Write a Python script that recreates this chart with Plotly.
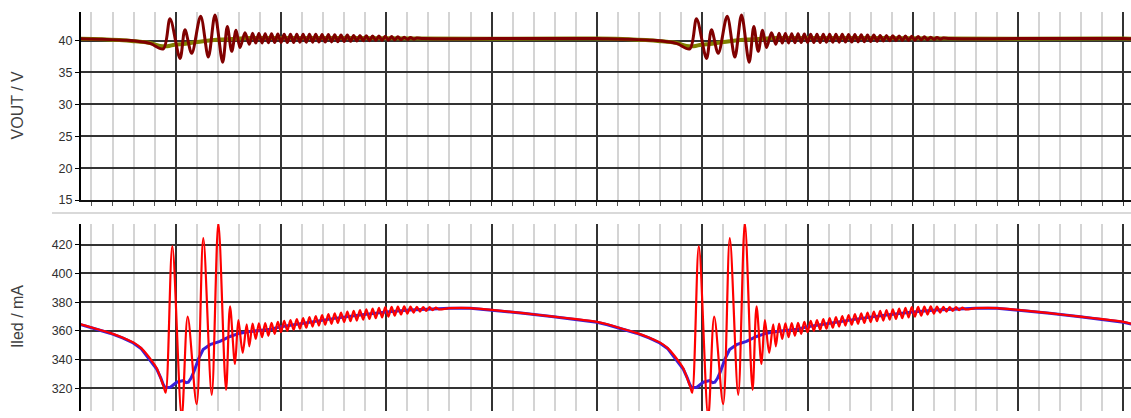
import plotly.graph_objects as go

# ---------------- data (one period of a repeating waveform; time in us, phase 0..500) ----------------
PERIOD = 500
PERIOD_STARTS = [0, 500, 1000]

# Iled, raw (red)
T_IRED = [0, 10, 24, 37.6, 50, 59.7, 67, 72.5, 78, 82, 86, 88.5, 90.5, 96.8, 105.7, 111.4, 119.9,
          126.2, 134.2, 140.5, 147.8, 151.6, 156.3, 159.5, 163.6, 167.4, 169.9,
          173, 176, 179, 182, 185, 188, 191, 194, 197, 200, 203, 206, 209, 212, 215, 218, 221, 224,
          227, 230, 233, 236, 239, 242, 245, 248, 251, 254, 257, 260, 263, 266, 269, 272, 275, 278,
          281, 284, 287, 290, 293, 296, 299, 302, 305, 308, 311, 314, 317, 320, 323, 326, 329, 332,
          335, 338, 341, 344, 347, 350, 360, 380, 400, 430, 459, 478]
V_IRED = [366.3, 364.6, 361.5, 358.6, 355.2, 352.0, 348.2, 343.8, 338.5, 334.0, 326.5, 321.5, 317.0,
          419.0, 300.0, 370.0, 309.0, 424.5, 315.5, 435.0, 319.0, 377.0, 337.0, 367.5, 344.8, 364.5, 349.3,
          365.1, 354.4, 365.3, 355.6, 365.4, 356.6, 365.6, 357.9, 366.3, 359.2, 367.0, 360.0, 367.5, 360.8,
          368.2, 361.5, 368.9, 362.2, 369.6, 363.0, 370.3, 363.7, 371.0, 364.3, 371.6, 364.9, 372.2, 365.5,
          372.8, 366.1, 373.4, 366.7, 373.9, 367.2, 374.5, 367.8, 375.0, 368.3, 375.5, 368.8, 376.1, 369.3,
          376.6, 369.9, 376.8, 370.6, 376.9, 371.3, 377.0, 372.0, 376.9, 372.7, 376.8, 373.4, 376.6, 373.9,
          376.5, 374.4, 376.2, 375.0, 375.8, 375.9, 374.6, 372.3, 369.9, 368.3]

# Iled, averaged (blue)
T_IAVG = [0, 10, 24, 37.6, 50, 59.7, 67, 72.5, 78, 82, 86, 88, 90, 95, 101, 104, 107, 110, 112, 114.5,
          117, 121.5, 126, 132.6, 142, 151.6, 161, 170.6, 180, 190, 200, 218, 237, 251, 275, 300, 322,
          346, 360, 380, 400, 430, 459, 478]
V_IAVG = [366.0, 364.3, 361.3, 358.4, 355.0, 351.6, 347.8, 342.5, 337.6, 333.4, 327.0, 323.0, 320.5,
          320.8, 324.3, 325.0, 325.4, 324.0, 324.3, 327.0, 331.1, 340.2, 347.0, 350.4, 352.7, 356.1,
          358.4, 359.5, 360.3, 361.2, 362.9, 365.0, 367.3, 368.7, 371.0, 373.2, 374.6, 375.5, 375.7,
          375.8, 374.5, 372.2, 369.8, 368.2]

# VOUT, raw (dark red)
T_VRAW = [0, 10, 30, 50, 60, 75.6, 88.2, 94.6, 104.1, 108.8, 115.2, 123.7, 131, 137.3, 144.6, 149,
          153.2, 157.3, 161.1, 165.8, 169.9,
          173, 176, 179, 182, 185, 188, 191, 194, 197, 200, 203, 206, 209, 212, 215, 218, 221, 224,
          227, 230, 233, 236, 239, 242, 245, 248, 251, 254, 257, 260, 263, 266, 269, 272, 275, 278,
          281, 284, 287, 290, 293, 296, 299, 302, 305, 308, 311, 314, 317, 320, 323, 326, 329,
          335, 400, 478]
V_VRAW = [40.3, 40.28, 40.2, 40.05, 39.95, 39.55, 38.7, 43.4, 37.2, 41.7, 38.0, 43.8, 37.4, 44.0, 36.6,
          42.2, 38.3, 41.6, 38.9, 41.2, 39.4,
          41.15, 39.60, 41.10, 39.62, 41.07, 39.65, 41.05, 39.68, 41.02, 39.70, 41.00, 39.70, 41.00,
          39.70, 41.00, 39.72, 41.00, 39.72, 40.98, 39.74, 40.98, 39.75, 40.95, 39.76, 40.95, 39.78,
          40.90, 39.82, 40.88, 39.85, 40.85, 39.88, 40.80, 39.92, 40.78, 39.95, 40.75, 39.97, 40.72,
          40.00, 40.70, 40.02, 40.66, 40.06, 40.62, 40.10, 40.58, 40.14, 40.52, 40.18, 40.46, 40.22,
          40.38, 40.30, 40.30, 40.30]

# VOUT, averaged (olive)
T_VAVG = [0, 30, 60, 75.6, 85, 92, 99, 104, 113.5, 126, 142, 160, 170.6, 180, 250, 330, 478]
V_VAVG = [40.3, 40.2, 39.9, 39.6, 39.15, 39.1, 39.35, 39.4, 39.6, 39.9, 40.15, 40.3, 40.4, 40.4, 40.4,
          40.3, 40.3]

Y1_TICKS = [15, 20, 25, 30, 35, 40]
Y2_TICKS = [320, 340, 360, 380, 400, 420]
Y1_TITLE = "VOUT / V"
Y2_TITLE = "Iled / mA"

for a, b in [(T_IRED, V_IRED), (T_IAVG, V_IAVG), (T_VRAW, V_VRAW), (T_VAVG, V_VAVG)]:
    assert len(a) == len(b), (len(a), len(b))


def tile(ts, vs):
    xs, ys = [], []
    for s in PERIOD_STARTS:
        xs += [s + t for t in ts]
        ys += list(vs)
    return xs, ys


# ---------------- figure ----------------
W, H = 1131, 418
ML = 81
fig = go.Figure()

x, y = tile(T_VAVG, V_VAVG)
fig.add_trace(go.Scatter(x=x, y=y, mode="lines", line=dict(color="#808000", width=4, shape="spline"),
                         xaxis="x", yaxis="y", hoverinfo="skip"))
x, y = tile(T_VRAW, V_VRAW)
fig.add_trace(go.Scatter(x=x, y=y, mode="lines", line=dict(color="#800000", width=3, shape="spline", smoothing=0.9),
                         xaxis="x", yaxis="y", hoverinfo="skip"))
x, y = tile(T_IAVG, V_IAVG)
fig.add_trace(go.Scatter(x=x, y=y, mode="lines", line=dict(color="#3a20d8", width=3),
                         xaxis="x2", yaxis="y2", hoverinfo="skip"))
x, y = tile(T_IRED, V_IRED)
fig.add_trace(go.Scatter(x=x, y=y, mode="lines", line=dict(color="#ff0000", width=2.2, shape="spline", smoothing=0.9),
                         xaxis="x2", yaxis="y2", hoverinfo="skip"))

XR = [10.07, 1007.2]
grid_major = "#333333"
grid_minor = "#d4d4d4"
tick_font = dict(family="Liberation Sans, Arial, sans-serif", size=12.5, color="#303030")

xcommon = dict(range=XR, tick0=0, dtick=100, showgrid=True, gridcolor=grid_major, gridwidth=1.5,
               showticklabels=False, zeroline=False,
               minor=dict(dtick=20, tick0=0, showgrid=True, gridcolor=grid_minor, gridwidth=1.5,
                          ticks="outside", ticklen=4, tickcolor="#555555"),
               ticks="outside", ticklen=4, tickcolor="#333333")

fig.update_layout(
    width=W, height=H,
    margin=dict(l=ML, r=0, t=0, b=0),
    paper_bgcolor="white", plot_bgcolor="white",
    showlegend=False,
    xaxis=dict(domain=[0, 1], anchor="y", showline=True, linecolor="#111111", linewidth=1.5, **xcommon),
    xaxis2=dict(domain=[0, 1], anchor="y2", showline=False, **{k: v for k, v in xcommon.items() if k not in ("minor", "ticks")},
                minor=dict(dtick=20, tick0=0, showgrid=True, gridcolor=grid_minor, gridwidth=1.5), ticks=""),
    yaxis=dict(domain=[1 - 203.5 / H, 1 - 12 / H], range=[15, 44.5], tickvals=Y1_TICKS,
               showgrid=True, gridcolor=grid_major, gridwidth=1.5, zeroline=False,
               showline=True, linecolor="#000000", linewidth=2, ticks="outside", ticklen=4,
               tickcolor="#000000", tickfont=tick_font),
    yaxis2=dict(domain=[0, 1 - 227.7 / H], range=[304.3, 434.4], tickvals=Y2_TICKS,
                showgrid=True, gridcolor=grid_major, gridwidth=1.5, zeroline=False,
                showline=True, linecolor="#000000", linewidth=2, ticks="outside", ticklen=4,
                tickcolor="#000000", tickfont=tick_font),
    shapes=[dict(type="line", xref="paper", yref="paper", x0=(52 - ML) / (W - ML), x1=1,
                 y0=1 - 216.7 / H, y1=1 - 216.7 / H, line=dict(color="#d9d9d9", width=2))],
    annotations=[
        dict(text=Y1_TITLE, xref="paper", yref="paper", x=(17.5 - ML) / (W - ML), y=1 - 107.7 / H,
             textangle=-90, showarrow=False, xanchor="center", yanchor="middle",
             font=dict(family="Liberation Sans, Arial, sans-serif", size=16, color="#404040")),
        dict(text=Y2_TITLE, xref="paper", yref="paper", x=(17.5 - ML) / (W - ML), y=1 - 322 / H,
             textangle=-90, showarrow=False, xanchor="center", yanchor="middle",
             font=dict(family="Liberation Sans, Arial, sans-serif", size=16, color="#404040")),
    ],
)

fig.write_html("out.html", config={"displayModeBar": False})
